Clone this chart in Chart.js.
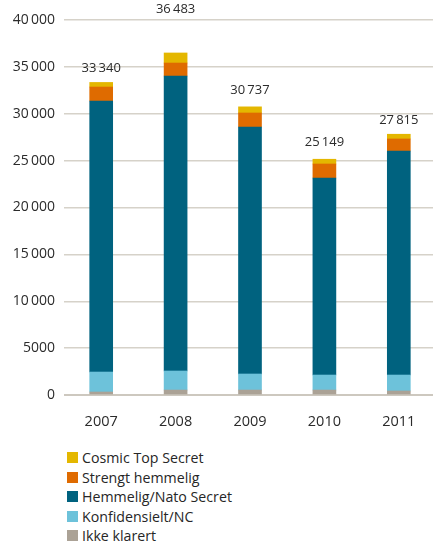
<!DOCTYPE html>
<html>
<head>
<meta charset="utf-8">
<script src="https://cdn.jsdelivr.net/npm/chart.js@4/dist/chart.umd.min.js"></script>
<style>
  html, body { margin: 0; padding: 0; background: #fff; overflow: hidden; }
  body { width: 433px; height: 543px; font-family: 'Open Sans', sans-serif; color: #333; }
  #wrap { position: relative; width: 436px; height: 432px; }
  #legend { margin: 16px 0 0 67px; padding: 0; list-style: none; }
  #legend li { display: flex; align-items: center; height: 19.5px; font-size: 14.2px; color: #262626; }
  #legend .sw { width: 11px; height: 11px; margin-right: 4px; flex: none; }
</style>
</head>
<body>
<div id="wrap"><canvas id="chart"></canvas></div>
<ul id="legend"></ul>

<script>
// ── DATA ──────────────────────────────────────────────────────
const years       = ['2007', '2008', '2009', '2010', '2011'];
const ikkeKlarert = [320, 530, 530, 530, 430];
const konfNC      = [2130, 2030, 1710, 1600, 1700];
const hemmelig    = [28910, 31470, 26350, 21020, 23900];
const strengt     = [1490, 1380, 1490, 1490, 1280];
const cosmic      = [490, 1073, 657, 509, 505];
const totals      = [33340, 36483, 30737, 25149, 27815];
const yTicks      = [0, 5000, 10000, 15000, 20000, 25000, 30000, 35000, 40000];

const fmt = v => v < 10000 ? String(v) : String(v).replace(/\B(?=(\d{3})+(?!\d))/g, '\u2009');

// total labels sit above each stack; 2008 is lifted clear of the gridline
const totalLift = [14, 43, 16, 16, 13];

const totalLabels = {
  id: 'totalLabels',
  afterDatasetsDraw(chart) {
    const { ctx } = chart;
    const top = chart.getDatasetMeta(chart.data.datasets.length - 1);
    ctx.save();
    ctx.font = '13px "Open Sans", sans-serif';
    ctx.fillStyle = '#2b2b2b';
    ctx.textAlign = 'center';
    ctx.textBaseline = 'bottom';
    top.data.forEach((bar, i) => {
      const y = chart.scales.y.getPixelForValue(totals[i]);
      ctx.fillText(fmt(totals[i]), bar.x, y - totalLift[i] + 6);
    });
    ctx.restore();
  }
};

const sets = [
  { label: 'Ikke klarert',          data: ikkeKlarert, backgroundColor: '#aba296' },
  { label: 'Konfidensielt/NC',      data: konfNC,      backgroundColor: '#6dc2da' },
  { label: 'Hemmelig/Nato Secret',  data: hemmelig,    backgroundColor: '#00627f' },
  { label: 'Strengt hemmelig',      data: strengt,     backgroundColor: '#df6b00' },
  { label: 'Cosmic Top Secret',     data: cosmic,      backgroundColor: '#e4b700' },
];

const chart = new Chart(document.getElementById('chart'), {
  type: 'bar',
  data: {
    labels: years,
    datasets: sets.map(s => ({ ...s, barThickness: 23, borderWidth: 0 })),
  },
  options: {
    responsive: true, maintainAspectRatio: false, animation: false,
    layout: { padding: { top: 20, right: 0, left: 0, bottom: 0 } },
    plugins: { legend: { display: false }, tooltip: { enabled: false } },
    scales: {
      x: {
        stacked: true,
        grid: { display: false }, border: { display: false },
        ticks: { color: '#2b2b2b', font: { family: 'Open Sans', size: 14.5 }, padding: 10 },
        afterFit: s => { s.height = 37; },
      },
      y: {
        stacked: true, min: 0, max: 40000,
        afterBuildTicks: s => { s.ticks = yTicks.map(v => ({ value: v })); },
        afterFit: s => { s.width = 64; },
        border: { display: false },
        grid: {
          color: ctx => ctx.tick && ctx.tick.value === 0 ? '#cdc8bf' : '#d6d2c9',
          lineWidth: ctx => ctx.tick && ctx.tick.value === 0 ? 2 : 1.5,
          drawTicks: false,
        },
        ticks: {
          color: '#2b2b2b', font: { family: 'Open Sans', size: 14 }, padding: 9,
          callback: v => fmt(v),
        },
      },
    },
  },
  plugins: [totalLabels],
});

// ── LEGEND (top of stack first) ───────────────────────────────
const legendEl = document.getElementById('legend');
[...sets].reverse().forEach(s => {
  legendEl.innerHTML +=
    '<li><span class="sw" style="background:' + s.backgroundColor + '"></span>' + s.label + '</li>';
});
</script>
</body>
</html>
